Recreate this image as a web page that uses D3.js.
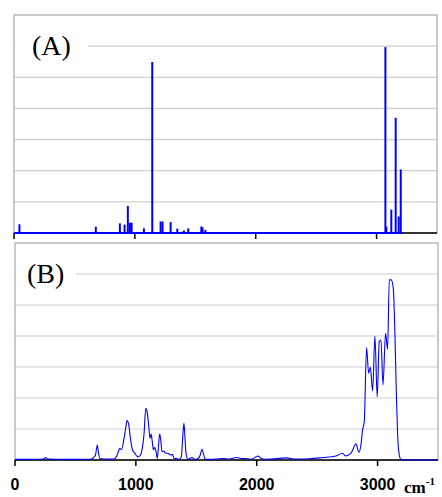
<!DOCTYPE html>
<html>
<head>
<meta charset="utf-8">
<script src="https://cdn.jsdelivr.net/npm/d3@7"></script>
<style>
  body { margin: 0; background: #fff; }
  svg { display: block; }
  .tick-label { font-family: "Liberation Sans", Arial, sans-serif; font-weight: bold; font-size: 16px; }
  .panel-label { font-family: "Liberation Serif", "Times New Roman", serif; font-size: 28px; }
</style>
</head>
<body>
<svg id="chart" width="442" height="497"></svg>
<script>
// x axis ticks (cm-1)
const X_TICKS = [0, 1000, 2000, 3000];
const X_DOMAIN = [0, 3500];
const GRID_VALUES = [1, 2, 3, 4, 5, 6];

// (A) computed stick spectrum
const stickPos = [45, 288, 589, 677, 876, 915, 942, 959, 973, 1000, 1075, 1144, 1213, 1229, 1296, 1351, 1392, 1406, 1442, 1550, 1560, 1583, 3073, 3081, 3122, 3158, 3183, 3200];
const stickInt = [0.28, 0.01, 0.03, 0.2, 0.31, 0.27, 0.87, 0.33, 0.33, 0.02, 0.15, 5.49, 0.37, 0.37, 0.35, 0.14, 0.04, 0.08, 0.15, 0.21, 0.18, 0.1, 5.97, 0.2, 0.75, 3.7, 0.53, 2.04];

// (B) measured spectrum
const specWave = [0, 100, 200, 240, 256, 270, 300, 320, 400, 500, 600, 630, 650, 666, 681, 692, 703, 760, 817, 845, 858, 867, 881, 900, 915, 927, 939, 955, 972, 991, 1018, 1038, 1060, 1068, 1082, 1093, 1107, 1117, 1126, 1134, 1145, 1156, 1167, 1178, 1189, 1197, 1206, 1216, 1230, 1247, 1266, 1285, 1302, 1316, 1335, 1354, 1376, 1390, 1398, 1406, 1415, 1431, 1464, 1486, 1514, 1533, 1547, 1558, 1575, 1610, 1665, 1720, 1775, 1831, 1872, 1927, 1954, 2010, 2037, 2090, 2243, 2326, 2436, 2546, 2656, 2711, 2733, 2780, 2822, 2845, 2863, 2876, 2890, 2909, 2926, 2940, 2959, 2978, 2997, 3014, 3028, 3045, 3066, 3083, 3097, 3113, 3130, 3144, 3155, 3165, 3178, 3195, 3300, 3500];
const specInt = [0.02, 0.02, 0.02, 0.04, 0.08, 0.03, 0.03, 0.02, 0.02, 0.02, 0.02, 0.03, 0.08, 0.16, 0.48, 0.2, 0.05, 0.03, 0.03, 0.15, 0.3, 0.38, 0.33, 0.65, 1.0, 1.27, 1.18, 0.7, 0.33, 0.22, 0.1, 0.16, 0.56, 0.86, 1.67, 1.56, 1.08, 0.7, 0.84, 0.65, 0.33, 0.41, 0.27, 0.05, 0.54, 0.84, 0.65, 0.27, 0.29, 0.22, 0.22, 0.16, 0.18, 0.05, 0.05, 0.02, 0.1, 0.86, 1.18, 0.75, 0.22, 0.02, 0.08, 0.02, 0.05, 0.16, 0.35, 0.22, 0.02, 0.02, 0.03, 0.05, 0.03, 0.08, 0.05, 0.04, 0.02, 0.13, 0.05, 0.02, 0.07, 0.03, 0.04, 0.08, 0.13, 0.22, 0.13, 0.22, 0.52, 0.25, 0.5, 0.97, 1.24, 3.63, 2.8, 2.99, 2.23, 4.0, 2.04, 3.82, 3.87, 2.42, 4.09, 3.57, 5.81, 5.81, 5.54, 4.0, 2.2, 0.9, 0.2, 0.01, 0.0, 0.0];

const svg = d3.select("#chart");

function drawFrame(x, y, label, labelX, gapEnd){
	const g = svg.append("g");
	const [x0, x1] = x.range();
	const [yb, yt] = y.range();

	// gridlines
	g.selectAll(".grid")
		.data(GRID_VALUES)
		.enter().append("line")
		.attr("x1", x0).attr("x2", x1)
		.attr("y1", d => y(d)).attr("y2", d => y(d))
		.attr("stroke", "#cfcfcf")
		.attr("stroke-width", 1.2);

	// frame
	g.append("rect")
		.attr("x", x0).attr("y", yt)
		.attr("width", x1 - x0).attr("height", yb - yt)
		.attr("fill", "none")
		.attr("stroke", "#a8a8a8")
		.attr("stroke-width", 1.2);

	// white patch behind panel label
	g.append("rect")
		.attr("x", x0 + 1).attr("y", y(6) - 3)
		.attr("width", gapEnd - x0 - 1).attr("height", 6)
		.attr("fill", "#fff");

	g.append("text")
		.attr("class", "panel-label")
		.attr("x", labelX)
		.attr("y", y(6) + 9)
		.text(label);

	return g;
}

function drawAxis(g, x, y){
	const yb = y.range()[0];
	g.append("line")
		.attr("x1", x.range()[0]).attr("x2", x.range()[1])
		.attr("y1", yb).attr("y2", yb)
		.attr("stroke", "#000")
		.attr("stroke-width", 1.5);
	g.selectAll(".tk")
		.data(X_TICKS)
		.enter().append("line")
		.attr("x1", d => x(d)).attr("x2", d => x(d))
		.attr("y1", yb).attr("y2", yb + 6)
		.attr("stroke", "#000")
		.attr("stroke-width", 1.5);
}

// ---- panel A ----
const xA = d3.scaleLinear().domain(X_DOMAIN).range([14, 437]);
const yA = d3.scaleLinear().domain([0, 7]).range([233, 15]);
const gA = drawFrame(xA, yA, "(A)", 32, 88);
drawAxis(gA, xA, yA);

const sticks = stickPos.map((p, i) => [p, stickInt[i]]);
gA.append("line")
	.attr("x1", xA(0)).attr("x2", xA(3215))
	.attr("y1", yA(0)).attr("y2", yA(0))
	.attr("stroke", "#0000ff")
	.attr("stroke-width", 2);
gA.selectAll(".stick")
	.data(sticks)
	.enter().append("line")
	.attr("x1", d => xA(d[0])).attr("x2", d => xA(d[0]))
	.attr("y1", yA(0)).attr("y2", d => yA(d[1]))
	.attr("stroke", "#0000ff")
	.attr("stroke-width", 2);

// ---- panel B ----
const xB = d3.scaleLinear().domain(X_DOMAIN).range([15, 438]);
const yB = d3.scaleLinear().domain([0, 7]).range([460, 243]);
const gB = drawFrame(xB, yB, "(B)", 27, 76);
drawAxis(gB, xB, yB);

const spec = specWave.map((w, i) => [w, specInt[i]]);
const line = d3.line()
	.x(d => xB(d[0]))
	.y(d => yB(d[1]))
	.curve(d3.curveMonotoneX);
gB.append("path")
	.datum(spec)
	.attr("d", line)
	.attr("fill", "none")
	.attr("stroke", "#0000ff")
	.attr("stroke-width", 1.1);

gB.selectAll(".tick-label")
	.data(X_TICKS)
	.enter().append("text")
	.attr("class", "tick-label")
	.attr("x", d => xB(d))
	.attr("y", 490)
	.attr("text-anchor", "middle")
	.text(d => d);

// unit label
const unit = svg.append("text")
	.attr("x", 404)
	.attr("y", 493)
	.style("font-family", "'Liberation Serif', 'Times New Roman', serif")
	.style("font-weight", "bold")
	.style("font-size", "17px");
unit.append("tspan").text("cm");
unit.append("tspan")
	.attr("dy", -8)
	.style("font-size", "11px")
	.text("-1");
</script>
</body>
</html>
